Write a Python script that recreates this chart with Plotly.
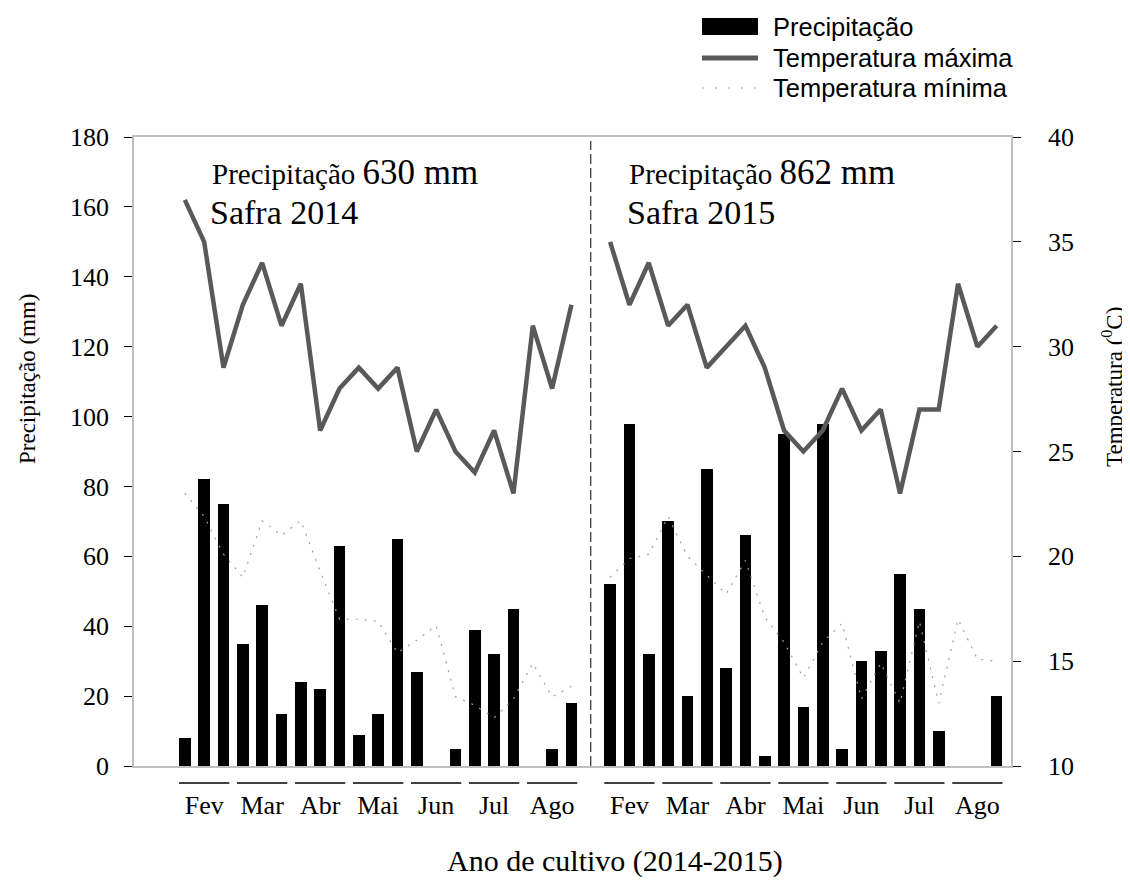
import plotly.graph_objects as go

# ---------------- data ----------------
months = ["Fev", "Mar", "Abr", "Mai", "Jun", "Jul", "Ago"]
precip_2014 = [8, 82, 75, 35, 46, 15, 24, 22, 63, 9, 15, 65, 27, 0, 5, 39, 32, 45, 0, 5, 18]
precip_2015 = [52, 98, 32, 70, 20, 85, 28, 66, 3, 95, 17, 98, 5, 30, 33, 55, 45, 10, 0, 0, 20]
tmax_2014 = [37, 35, 29, 32, 34, 31, 33, 26, 28, 29, 28, 29, 25, 27, 25, 24, 26, 23, 31, 28, 32]
tmax_2015 = [35, 32, 34, 31, 32, 29, 30, 31, 29, 26, 25, 26, 28, 26, 27, 23, 27, 27, 33, 30, 31]
tmin_2014 = [23.0, 21.9, 20.1, 19.0, 21.7, 21.0, 21.7, 19.3, 17.0, 17.0, 16.9, 15.4, 16.0, 16.7,
             13.3, 12.9, 12.3, 13.2, 14.9, 13.3, 13.8]
tmin_2015 = [19.0, 19.9, 20.1, 21.9, 20.0, 19.1, 18.2, 19.8, 17.1, 15.9, 14.2, 15.9, 16.8, 13.2,
             14.9, 13.0, 16.9, 13.0, 17.0, 15.1, 15.0]
total_2014 = "630 mm"
total_2015 = "862 mm"
left_ticks = [0, 20, 40, 60, 80, 100, 120, 140, 160, 180]
right_ticks = [10, 15, 20, 25, 30, 35, 40]

# ---------------- geometry helpers ----------------
W, H = 1130, 880
OFF = 8                              # default page body margin
L, R, T, B = 134, 1011, 137, 766     # plot area in page pixels
n14 = len(precip_2014)
off15 = n14 + 1                      # one empty slot for the divider
x14 = list(range(n14))
x15 = [off15 + i for i in range(len(precip_2015))]
divider = n14


def xp(px):
    return (px - L) / (R - L)


def yp(py):
    return (B - py) / (B - T)


SERIF = "Liberation Serif, Times New Roman, serif"
SANS = "Liberation Sans, Arial, sans-serif"
MAXC = "#595959"
MINC = "#a0a0a0"
AXC = "#bfbfbf"

fig = go.Figure()

fig.add_trace(go.Bar(x=x14 + x15, y=precip_2014 + precip_2015, marker_color="black",
                     marker_line_width=0, width=0.6, yaxis="y", showlegend=False,
                     name="Precipitação"))

for xs, ys in ((x14, tmax_2014), (x15, tmax_2015)):
    fig.add_trace(go.Scatter(x=xs, y=ys, mode="lines", yaxis="y2", showlegend=False,
                             line=dict(color=MAXC, width=4.5), name="Temperatura máxima"))
for xs, ys in ((x14, tmin_2014), (x15, tmin_2015)):
    fig.add_trace(go.Scatter(x=xs, y=ys, mode="lines", yaxis="y2", showlegend=False,
                             line=dict(color=MINC, width=1.2, dash="2px,7px"),
                             name="Temperatura mínima"))

tickvals = [3 * m + 1 for m in range(len(months))] + [off15 + 3 * m + 1 for m in range(len(months))]
ticktext = months + months

shapes = []
for base in (0, off15):
    for m in range(len(months)):
        shapes.append(dict(type="line", xref="x", yref="paper",
                           x0=base + 3 * m - 0.3, x1=base + 3 * m + 2.3,
                           y0=yp(783), y1=yp(783), line=dict(color="black", width=1.5)))
shapes.append(dict(type="line", xref="x", yref="paper", x0=divider, x1=divider,
                   y0=0, y1=yp(141), line=dict(color="black", width=1, dash="10px,4px")))

# custom legend
lx0, lx1 = 702, 758
shapes.append(dict(type="rect", xref="paper", yref="paper", x0=xp(lx0), x1=xp(lx1),
                   y0=yp(35), y1=yp(18), fillcolor="black", line=dict(width=0)))
shapes.append(dict(type="line", xref="paper", yref="paper", x0=xp(lx0), x1=xp(lx1),
                   y0=yp(58), y1=yp(58), line=dict(color=MAXC, width=5)))
shapes.append(dict(type="line", xref="paper", yref="paper", x0=xp(lx0), x1=xp(lx1),
                   y0=yp(88), y1=yp(88), line=dict(color=MINC, width=1.2, dash="2px,11px")))

annotations = []
for txt, cy in (("Precipitação", 27), ("Temperatura máxima", 58), ("Temperatura mínima", 88)):
    annotations.append(dict(text=txt, xref="paper", yref="paper", x=xp(771), y=yp(cy),
                            xanchor="left", yanchor="middle", showarrow=False,
                            font=dict(family=SANS, size=25.5, color="black")))

for x0, total, safra in ((210, total_2014, "Safra 2014"), (627, total_2015, "Safra 2015")):
    annotations.append(dict(text="Precipitação <span style='font-size:35px'>" + total + "</span>",
                            xref="paper", yref="paper", x=xp(x0), y=yp(172),
                            xanchor="left", yanchor="middle", showarrow=False,
                            font=dict(family=SERIF, size=29, color="black")))
    annotations.append(dict(text=safra, xref="paper", yref="paper", x=xp(x0 - 2), y=yp(212),
                            xanchor="left", yanchor="middle", showarrow=False,
                            font=dict(family=SERIF, size=34, color="black")))

annotations.append(dict(text="Precipitação (mm)", xref="paper", yref="paper", x=xp(27), y=yp(379),
                        textangle=-90, xanchor="center", yanchor="middle", showarrow=False,
                        font=dict(family=SERIF, size=23, color="black")))
annotations.append(dict(text="Temperatura (<sup>0</sup>C)", xref="paper", yref="paper", x=xp(1112),
                        y=yp(387), textangle=-90, xanchor="center", yanchor="middle",
                        showarrow=False, font=dict(family=SERIF, size=23, color="black")))
annotations.append(dict(text="Ano de cultivo (2014-2015)", xref="paper", yref="paper", x=xp(615),
                        y=yp(861), xanchor="center", yanchor="middle", showarrow=False,
                        font=dict(family=SERIF, size=30, color="black")))

fig.update_layout(
    width=W, height=H,
    margin=dict(l=L - OFF, r=W + OFF - R, t=T - OFF, b=H + OFF - B, pad=0),
    paper_bgcolor="white", plot_bgcolor="white",
    bargap=0,
    showlegend=False,
    xaxis=dict(range=[-2.63, 42.74], tickvals=tickvals, ticktext=ticktext, ticks="",
               showgrid=False, zeroline=False, showline=True, linecolor=AXC, linewidth=1.5,
               mirror=True, ticklabelstandoff=15,
               tickfont=dict(family=SERIF, size=26, color="black")),
    yaxis=dict(range=[0, 180], tickvals=left_ticks, ticks="outside", ticklen=8, tickwidth=1,
               tickcolor="black", showgrid=False, zeroline=False, showline=True,
               linecolor=AXC, linewidth=1.5, ticklabelstandoff=10,
               tickfont=dict(family=SERIF, size=26, color="black")),
    yaxis2=dict(range=[10, 40], tickvals=right_ticks, overlaying="y", side="right",
                ticks="outside", ticklen=8, tickwidth=1, tickcolor="black", showgrid=False,
                zeroline=False, showline=True, linecolor=AXC, linewidth=1.5,
                ticklabelstandoff=22, tickfont=dict(family=SERIF, size=26, color="black")),
    shapes=shapes,
    annotations=annotations,
)

fig.write_html("out.html")
